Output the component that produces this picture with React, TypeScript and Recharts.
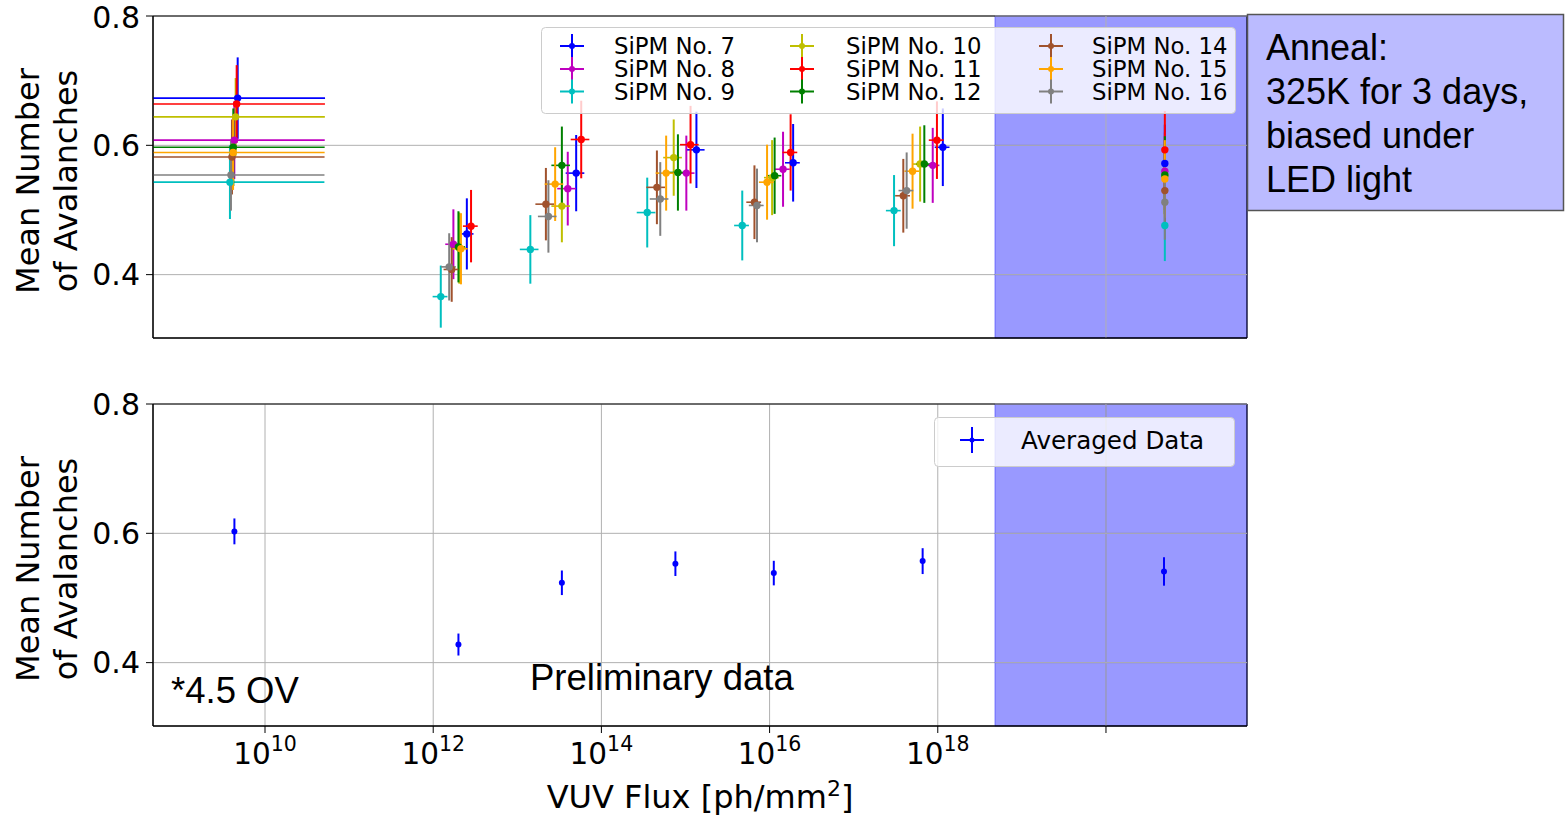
import React from 'react';
import {
  ScatterChart, Scatter, XAxis, YAxis, CartesianGrid, ErrorBar, ReferenceArea, ReferenceLine
} from 'recharts';

// log10 of the VUV flux for each irradiation step, per SiPM
const SIPM_LABELS = [
  'SiPM No. 7', 'SiPM No. 8', 'SiPM No. 9',
  'SiPM No. 10', 'SiPM No. 11', 'SiPM No. 12',
  'SiPM No. 14', 'SiPM No. 15', 'SiPM No. 16',
];
const SIPM_COLORS = ['#0000ff', '#bf00bf', '#00bfbf', '#bfbf00', '#ff0000', '#008000', '#a0522d', '#ffa500', '#808080'];

const FLUX_LOG_7 = [9.675, 12.40, 13.70, 15.13, 16.28, 18.06, 20.70];
const MEAN_7 = [0.673, 0.463, 0.557, 0.593, 0.573, 0.597, 0.572];
const ERR_7 = [0.063, 0.055, 0.059, 0.059, 0.060, 0.060, 0.060];

const FLUX_LOG_8 = [9.635, 12.24, 13.60, 15.01, 16.16, 17.94, 20.70];
const MEAN_8 = [0.608, 0.447, 0.533, 0.557, 0.563, 0.569, 0.560];
const ERR_8 = [0.060, 0.054, 0.057, 0.058, 0.058, 0.058, 0.060];

const FLUX_LOG_9 = [9.583, 12.09, 13.155, 14.545, 15.675, 17.48, 20.70];
const MEAN_9 = [0.543, 0.366, 0.439, 0.496, 0.476, 0.499, 0.476];
const ERR_9 = [0.057, 0.048, 0.053, 0.054, 0.054, 0.055, 0.055];

const FLUX_LOG_10 = [9.651, 12.31, 13.53, 14.86, 16.03, 17.79, 20.70];
const MEAN_10 = [0.644, 0.441, 0.506, 0.581, 0.550, 0.571, 0.553];
const ERR_10 = [0.060, 0.055, 0.056, 0.059, 0.058, 0.058, 0.060];

const FLUX_LOG_11 = [9.663, 12.45, 13.76, 15.06, 16.25, 17.99, 20.70];
const MEAN_11 = [0.664, 0.475, 0.609, 0.601, 0.589, 0.608, 0.593];
const ERR_11 = [0.060, 0.056, 0.060, 0.060, 0.059, 0.060, 0.060];

const FLUX_LOG_12 = [9.623, 12.30, 13.53, 14.91, 16.06, 17.84, 20.70];
const MEAN_12 = [0.597, 0.443, 0.569, 0.558, 0.553, 0.571, 0.554];
const ERR_12 = [0.060, 0.055, 0.060, 0.059, 0.059, 0.060, 0.060];

const FLUX_LOG_14 = [9.607, 12.22, 13.34, 14.66, 15.82, 17.59, 20.70];
const MEAN_14 = [0.582, 0.408, 0.509, 0.535, 0.512, 0.522, 0.530];
const ERR_14 = [0.058, 0.050, 0.056, 0.057, 0.057, 0.057, 0.058];

const FLUX_LOG_15 = [9.620, 12.33, 13.45, 14.77, 15.97, 17.70, 20.70];
const MEAN_15 = [0.589, 0.440, 0.540, 0.557, 0.543, 0.560, 0.548];
const ERR_15 = [0.058, 0.055, 0.057, 0.058, 0.058, 0.058, 0.060];

const FLUX_LOG_16 = [9.595, 12.19, 13.37, 14.70, 15.85, 17.63, 20.70];
const MEAN_16 = [0.554, 0.412, 0.490, 0.517, 0.507, 0.530, 0.512];
const ERR_16 = [0.055, 0.052, 0.056, 0.057, 0.057, 0.059, 0.058];

// flux uncertainty: absolute for the pre-irradiation point, relative afterwards
const PRE_FLUX_ERR = 4.7e10;
const FLUX_ERR_REL = [0, 0.2, 0.25, 0.25, 0.2, 0.2, 0];

const AVG_FLUX_LOG = [9.636, 12.30, 13.53, 14.88, 16.05, 17.82, 20.69];
const AVG_MEAN = [0.603, 0.428, 0.5235, 0.553, 0.5385, 0.557, 0.541];
const AVG_ERR = [0.020, 0.017, 0.019, 0.019, 0.019, 0.020, 0.022];

const FLUX_TICKS = [1e10, 1e12, 1e14, 1e16, 1e18, 1e20];
const Y_TICKS = [0.4, 0.6, 0.8];
const X_MIN = 10 ** 8.668;
const X_MAX = 10 ** 21.677;
const ANNEAL_START = 10 ** 18.68;
const Y_MIN = 0.302;
const Y_MAX = 0.8;

const FLUX_LOGS = [FLUX_LOG_7, FLUX_LOG_8, FLUX_LOG_9, FLUX_LOG_10, FLUX_LOG_11, FLUX_LOG_12, FLUX_LOG_14, FLUX_LOG_15, FLUX_LOG_16];
const MEANS = [MEAN_7, MEAN_8, MEAN_9, MEAN_10, MEAN_11, MEAN_12, MEAN_14, MEAN_15, MEAN_16];
const ERRS = [ERR_7, ERR_8, ERR_9, ERR_10, ERR_11, ERR_12, ERR_14, ERR_15, ERR_16];

const series = SIPM_LABELS.map((label, s) => ({
  label,
  color: SIPM_COLORS[s],
  data: FLUX_LOGS[s].map((lf, i) => {
    const flux = 10 ** lf;
    const xe = i === 0 ? PRE_FLUX_ERR : FLUX_ERR_REL[i] * flux;
    return { flux, mean: MEANS[s][i], yErr: ERRS[s][i], xErr: [Math.min(xe, flux - X_MIN), xe] };
  }),
}));

const avgData = AVG_FLUX_LOG.map((lf, i) => ({ flux: 10 ** lf, mean: AVG_MEAN[i], yErr: AVG_ERR[i] }));

const DEJAVU = 'DejaVu Sans, sans-serif';
const ARIAL = 'Liberation Sans, Arial, sans-serif';
const GRID = '#b0b0b0';

const FluxTick = ({ x, y, payload }: any) => {
  const e = Math.round(Math.log10(payload.value));
  if (e > 18) return null;
  return (
    <text x={x} y={y + 29} textAnchor="middle" fontFamily={DEJAVU} fontSize={29.5} fill="#000">
      <tspan>10</tspan>
      <tspan dy={-13} fontSize={20.5}>{e}</tspan>
    </text>
  );
};

const YTitle = ({ viewBox }: any) => {
  const cy = viewBox.y + viewBox.height / 2 + 4;
  return (
    <g>
      <text x={28} y={cy} transform={`rotate(-90 28 ${cy})`} textAnchor="middle" dominantBaseline="central"
        fontFamily={DEJAVU} fontSize={32} fill="#000">Mean Number</text>
      <text x={66} y={cy} transform={`rotate(-90 66 ${cy})`} textAnchor="middle" dominantBaseline="central"
        fontFamily={DEJAVU} fontSize={32} fill="#000">of Avalanches</text>
    </g>
  );
};

const XTitle = ({ viewBox }: any) => {
  const cx = viewBox.x + viewBox.width / 2;
  return (
    <text x={cx} y={viewBox.y + 82} textAnchor="middle" fontFamily={DEJAVU} fontSize={32} fill="#000">
      VUV Flux [ph/mm<tspan dy={-12} fontSize={22}>2</tspan><tspan dy={12}>]</tspan>
    </text>
  );
};

const dot = (color: string, r: number) => (p: any) => <circle cx={p.cx} cy={p.cy} r={r} fill={color} />;

function Panel({ height, marginTop, xAxisHeight, children, bottom }: any) {
  return (
    <ScatterChart width={1566} height={height} margin={{ top: marginTop, right: 319, bottom: 0, left: 0 }}>
      <CartesianGrid stroke={GRID} strokeWidth={1} />
      <ReferenceArea x1={ANNEAL_START} x2={X_MAX} y1={Y_MIN} y2={Y_MAX} fill="#0000ff" fillOpacity={0.4}
        stroke="#0000ff" strokeOpacity={0.4} ifOverflow="visible" />
      {/* grid stays visible over the anneal span */}
      <ReferenceLine x={1e20} stroke={GRID} strokeWidth={1} />
      {Y_TICKS.map((t) => (
        <ReferenceLine key={t} segment={[{ x: ANNEAL_START, y: t }, { x: X_MAX, y: t }]} stroke={GRID} strokeWidth={1} />
      ))}
      <XAxis type="number" dataKey="flux" scale="log" domain={[X_MIN, X_MAX]} allowDataOverflow
        ticks={FLUX_TICKS} tick={bottom ? <FluxTick /> : false} tickSize={7} height={xAxisHeight}
        axisLine={{ stroke: '#000' }} tickLine={{ stroke: '#000' }}
        label={bottom ? { content: (p: any) => <XTitle {...p} /> } : undefined} />
      <YAxis type="number" dataKey="mean" domain={[Y_MIN, Y_MAX]} allowDataOverflow ticks={Y_TICKS}
        width={153} tickSize={7} tickMargin={6}
        tick={{ fontSize: 30, fill: '#000', fontFamily: DEJAVU }}
        axisLine={{ stroke: '#000' }} tickLine={{ stroke: '#000' }}
        label={{ content: (p: any) => <YTitle {...p} /> }} />
      {children}
      <ReferenceArea x1={X_MIN} x2={X_MAX} y1={Y_MIN} y2={Y_MAX} fill="none" stroke="#000" strokeWidth={1}
        ifOverflow="visible" />
    </ScatterChart>
  );
}

const LEGEND_COL_MARK = [572, 802, 1051];
const LEGEND_COL_TEXT = [614, 846, 1092];
const LEGEND_ROW_Y = [46, 69, 91.5];

function ErrMarker({ x, y, color, h, w, r }: any) {
  return (
    <g>
      <line x1={x} x2={x} y1={y - h / 2} y2={y + h / 2} stroke={color} strokeWidth={2} />
      <line x1={x - w / 2} x2={x + w / 2} y1={y} y2={y} stroke={color} strokeWidth={2} />
      <circle cx={x} cy={y} r={r} fill={color} />
    </g>
  );
}

export default function App() {
  return (
    <div style={{ position: 'absolute', left: 0, top: 0, width: 1566, height: 815, background: '#fff' }}>
      <div style={{ position: 'absolute', left: 0, top: 0 }}>
        <Panel height={345} marginTop={16} xAxisHeight={7} bottom={false}>
          {series.map((s) => (
            <Scatter key={s.label} name={s.label} data={s.data} fill={s.color} shape={dot(s.color, 3.7)}
              isAnimationActive={false}>
              <ErrorBar dataKey="xErr" direction="x" width={0} stroke={s.color} strokeWidth={1.6} />
              <ErrorBar dataKey="yErr" direction="y" width={0} stroke={s.color} strokeWidth={2} />
            </Scatter>
          ))}
        </Panel>
      </div>
      <div style={{ position: 'absolute', left: 0, top: 380 }}>
        <Panel height={435} marginTop={24} xAxisHeight={89} bottom>
          <Scatter name="Averaged Data" data={avgData} fill="#0000ff" shape={dot('#0000ff', 3)}
            isAnimationActive={false}>
            <ErrorBar dataKey="yErr" direction="y" width={0} stroke="#0000ff" strokeWidth={2} />
          </Scatter>
        </Panel>
      </div>
      <svg width={1566} height={815} style={{ position: 'absolute', left: 0, top: 0, pointerEvents: 'none' }}>
        {/* top legend */}
        <rect x={541.5} y={27.5} width={694} height={86} rx={4} fill="#fff" fillOpacity={0.8} stroke="#cccccc" />
        {series.map((s, i) => {
          const col = Math.floor(i / 3);
          const row = i % 3;
          const y = LEGEND_ROW_Y[row];
          return (
            <g key={s.label}>
              <ErrMarker x={LEGEND_COL_MARK[col]} y={y} color={s.color} h={24} w={24} r={3} />
              <text x={LEGEND_COL_TEXT[col]} y={y + 8.3} fontFamily={DEJAVU} fontSize={22.8} fill="#000">{s.label}</text>
            </g>
          );
        })}
        {/* bottom legend */}
        <rect x={934.5} y={417.5} width={300} height={49} rx={4} fill="#fff" fillOpacity={0.8} stroke="#cccccc" />
        <ErrMarker x={972} y={440} color="#0000ff" h={26} w={24} r={2.5} />
        <text x={1021} y={448.5} fontFamily={DEJAVU} fontSize={24.6} fill="#000">Averaged Data</text>
        {/* annotations */}
        <rect x={1247.5} y={14.5} width={316} height={196} fill="#bbbbff" stroke="#555" strokeWidth={1.5} />
        {['Anneal:', '325K for 3 days,', 'biased under', 'LED light'].map((t, i) => (
          <text key={t} x={1266} y={60 + i * 44} fontFamily={ARIAL} fontSize={36} fill="#000">{t}</text>
        ))}
        <text x={171} y={703} fontFamily={ARIAL} fontSize={36.5} fill="#000">*4.5 OV</text>
        <text x={530} y={690} fontFamily={ARIAL} fontSize={36.5} fill="#000">Preliminary data</text>
      </svg>
    </div>
  );
}
